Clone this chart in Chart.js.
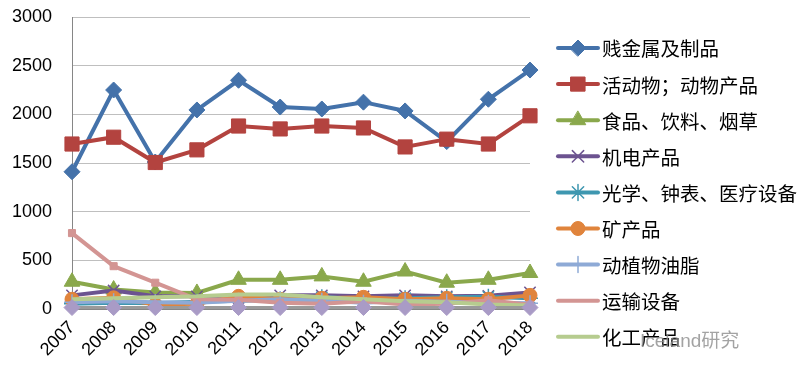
<!DOCTYPE html>
<html>
<head>
<meta charset="utf-8">
<script src="https://cdn.jsdelivr.net/npm/chart.js@4.4.1/dist/chart.umd.min.js"></script>
<style>
  html, body { margin: 0; padding: 0; background: #ffffff; }
  #wrap { position: relative; width: 805px; height: 373px; }
  #watermark {
    position: absolute; left: 640px; top: 325px;
    font: 19px "Liberation Sans", "Noto Sans CJK SC", sans-serif;
    color: rgba(140, 140, 140, 0.8);
  }
</style>
</head>
<body>
<div id="wrap">
  <canvas id="tradeChart" width="805" height="373"></canvas>
  <div id="watermark">Iceland研究</div>
</div>
<script>
// Categories and series
const years = ['2007', '2008', '2009', '2010', '2011', '2012', '2013', '2014', '2015', '2016', '2017', '2018'];
const yTicks = [0, 500, 1000, 1500, 2000, 2500, 3000];

const baseMetals   = [1410, 2250, 1510, 2045, 2350, 2075, 2055, 2125, 2035, 1720, 2155, 2455];
const liveAnimals  = [1695, 1765, 1505, 1635, 1880, 1850, 1880, 1860, 1665, 1745, 1695, 1985];
const foodDrink    = [280, 200, 170, 165, 300, 300, 335, 280, 385, 270, 300, 370];
const electrical   = [140, 190, 130, 130, 115, 140, 140, 130, 140, 130, 135, 170];
const optical      = [55, 65, 60, 75, 85, 95, 120, 105, 110, 120, 125, 110];
const minerals     = [100, 115, 45, 55, 130, 100, 110, 120, 100, 110, 100, 140];
const oils         = [70, 80, 70, 65, 85, 100, 85, 65, 85, 75, 65, 60];
const transport    = [780, 440, 270, 100, 95, 65, 55, 80, 45, 55, 90, 45];
const chemicals    = [100, 110, 120, 130, 150, 150, 120, 100, 80, 70, 45, 35];
const otherGoods   = [15, 15, 15, 15, 15, 15, 15, 15, 15, 15, 15, 15];

const seriesNames = ['贱金属及制品', '活动物；动物产品', '食品、饮料、烟草', '机电产品',
  '光学、钟表、医疗设备', '矿产品', '动植物油脂', '运输设备', '化工产品'];

function line(label, data, color, style, radius, order) {
    return {
        label: label,
        data: data,
        borderColor: color,
        backgroundColor: color,
        pointBorderColor: color,
        pointBackgroundColor: color,
        borderWidth: 4,
        pointStyle: style,
        pointRadius: radius,
        pointBorderWidth: style === 'crossRot' || style === 'cross' || style === 'star' ? 1.5 : 1,
        tension: 0,
        clip: 12,
        order: order   // later series are drawn on top, like the original
    };
}

// Legend drawn beside the plot: line sample + marker + text
const sideLegend = {
    id: 'sideLegend',
    afterDraw(chart) {
        const ctx = chart.ctx;
        ctx.save();
        ctx.font = '19.5px "Noto Sans CJK SC", sans-serif';
        ctx.textBaseline = 'middle';
        seriesNames.forEach(function(name, i) {
            const ds = chart.data.datasets[i];
            const y = 48 + i * 36.1;
            ctx.strokeStyle = ds.borderColor;
            ctx.lineWidth = 4;
            ctx.lineCap = 'round';
            ctx.beginPath();
            ctx.moveTo(558, y);
            ctx.lineTo(598, y);
            ctx.stroke();
            if (ds.pointRadius > 0 && i !== 7) {
                ctx.fillStyle = ds.pointBackgroundColor;
                ctx.strokeStyle = ds.pointBorderColor;
                ctx.lineWidth = ds.pointBorderWidth;
                Chart.helpers.drawPoint(ctx, { pointStyle: ds.pointStyle, radius: ds.pointRadius, borderWidth: ds.pointBorderWidth, rotation: 0 }, 578, y);
            }
            ctx.fillStyle = '#000000';
            ctx.fillText(name, 602, y + 1);
        });
        ctx.restore();
    }
};

document.addEventListener('DOMContentLoaded', function() {
    const ctx = document.getElementById('tradeChart').getContext('2d');
    const other = line('', otherGoods, '#a99bc6', 'rectRot', 8, 0);
    other.borderColor = '#9a9a9a';
    other.borderWidth = 3;
    new Chart(ctx, {
        type: 'line',
        data: {
            labels: years,
            datasets: [
                line(seriesNames[0], baseMetals, '#4472aa', 'rectRot', 8, 10),
                line(seriesNames[1], liveAnimals, '#b3433f', 'rect', 10, 9),
                line(seriesNames[2], foodDrink, '#8aa84c', 'triangle', 9, 8),
                line(seriesNames[3], electrical, '#6c5390', 'crossRot', 8, 7),
                line(seriesNames[4], optical, '#3e97b0', 'star', 8, 6),
                line(seriesNames[5], minerals, '#e0843c', 'circle', 7, 5),
                line(seriesNames[6], oils, '#8eaad6', 'cross', 8, 4),
                line(seriesNames[7], transport, '#d39593', 'rect', 5, 3),
                line(seriesNames[8], chemicals, '#b6cc8f', 'circle', 0, 2),
                other
            ]
        },
        options: {
            responsive: false,
            animation: false,
            events: [],
            layout: { padding: { top: 17, right: 275, left: 0, bottom: 0 } },
            plugins: {
                legend: { display: false },
                tooltip: { enabled: false }
            },
            scales: {
                x: {
                    offset: false,
                    grid: { display: false, drawTicks: false },
                    border: { color: '#868686', width: 1 },
                    ticks: {
                        autoSkip: false,
                        minRotation: 45,
                        maxRotation: 45,
                        padding: 8,
                        color: '#000000',
                        font: { family: '"Liberation Sans", sans-serif', size: 18 }
                    },
                    afterFit: function(scale) { scale.height = 64; }
                },
                y: {
                    min: 0,
                    max: 3000,
                    afterBuildTicks: function(scale) {
                        scale.ticks = yTicks.map(function(v) { return { value: v }; });
                    },
                    grid: { color: '#bfbfbf', lineWidth: 1, drawTicks: false },
                    border: { color: '#868686', width: 1 },
                    ticks: {
                        padding: 20,
                        color: '#000000',
                        font: { family: '"Liberation Sans", sans-serif', size: 18 },
                        callback: function(v) { return String(v); }
                    },
                    afterFit: function(scale) {
                        scale.width = 72;
                        scale.paddingTop = 10;
                        scale.paddingBottom = 0;
                    }
                }
            }
        },
        plugins: [sideLegend]
    });
});
</script>
</body>
</html>
